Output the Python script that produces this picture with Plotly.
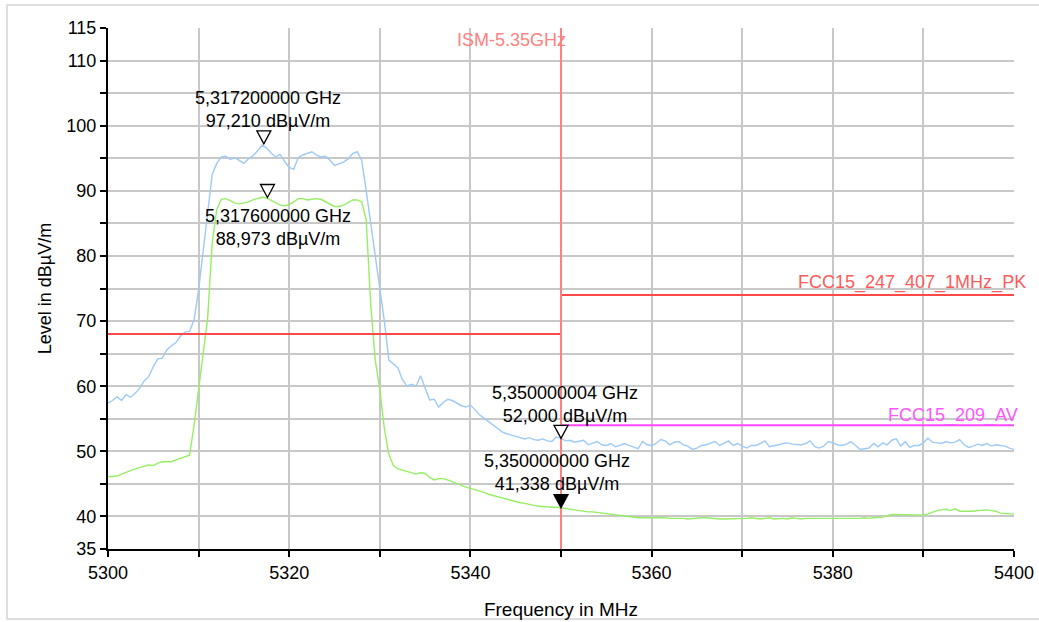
import plotly.graph_objects as go

# ---------------- data ----------------
freq_mhz = [5300 + 0.5 * i for i in range(201)]  # sweep grid, 0.5 MHz

peak_level = [
    57.4, 57.8, 58.4, 57.8, 58.7, 58.3, 58.9, 59.7, 60.8, 61.5,
    63.0, 64.2, 64.3, 65.6, 66.2, 66.7, 67.7, 68.3, 68.4, 70.2,
    74.8, 80.9, 87.0, 92.5, 94.2, 95.2, 95.3, 94.8, 95.1, 94.6,
    94.2, 94.9, 95.4, 96.1, 97.0, 96.6, 95.8, 95.2, 95.6, 94.5,
    93.6, 93.3, 95.1, 95.5, 95.8, 96.0, 95.5, 95.2, 95.3, 94.7,
    93.9, 94.1, 94.4, 94.9, 95.7, 96.0, 94.7, 90.0, 85.0, 80.0,
    74.8, 70.0, 64.0, 63.4, 62.8, 61.0, 60.0, 60.3, 60.0, 61.6,
    59.6, 57.9, 58.0, 56.8, 57.5, 58.0, 57.8, 57.4, 57.0, 56.8,
    57.1, 56.4, 55.6, 55.1, 54.6, 54.0, 53.5, 53.0, 52.7, 52.5,
    52.2, 52.0, 51.9, 52.1, 51.8, 51.7, 51.9, 51.6, 51.5, 52.2,
    52.0, 51.6, 51.7, 51.4, 51.6, 51.7, 51.0, 51.2, 51.5, 51.0,
    50.9, 51.2, 50.7, 50.9, 51.2, 50.9, 50.7, 50.4, 51.5, 51.0,
    50.9, 51.2, 51.8, 51.6, 51.0, 51.4, 51.5, 51.0, 50.8, 50.3,
    50.5, 50.9, 51.0, 51.3, 51.5, 50.9, 51.2, 51.6, 50.9, 51.2,
    50.8, 50.5, 50.9, 50.9, 51.2, 51.6, 50.7, 50.8, 51.0, 51.2,
    51.3, 51.1, 51.0, 51.0, 51.2, 51.6, 50.7, 50.5, 50.8, 51.5,
    51.3, 51.0, 50.9, 51.1, 51.5, 50.9, 50.3, 50.4, 50.5, 51.2,
    50.7, 51.3, 51.0, 51.7, 51.9, 50.8, 51.5, 50.6, 50.9, 50.9,
    51.3, 52.0, 51.4, 51.3, 51.2, 51.5, 51.3, 51.4, 51.8, 51.0,
    50.6, 50.8, 51.1, 50.9, 51.2, 50.8, 51.0, 50.9, 50.8, 50.5,
    50.3,
]

avg_level = [
    46.1, 46.2, 46.2, 46.5, 46.8, 47.0, 47.3, 47.5, 47.7, 47.9,
    47.8, 48.2, 48.4, 48.4, 48.4, 48.7, 48.9, 49.1, 49.4, 54.0,
    59.6, 65.5, 70.5, 82.0, 87.1, 88.7, 88.8, 88.5, 88.1, 88.0,
    88.1, 88.3, 88.6, 88.8, 89.0, 88.9, 88.5, 88.2, 87.8, 87.7,
    87.9, 88.3, 88.8, 88.8, 88.6, 88.7, 88.8, 88.7, 88.3, 87.9,
    87.6, 87.6, 87.8, 88.2, 88.6, 88.6, 88.3, 85.5, 72.5, 64.0,
    59.5, 53.5, 49.5, 47.8, 47.3, 47.1, 46.9, 46.7, 46.5, 46.7,
    46.6, 46.0, 45.6, 45.8, 45.8, 45.6, 45.3, 45.0, 44.7, 44.5,
    44.3, 44.1, 44.0, 43.7, 43.4, 43.2, 43.0, 42.8, 42.7, 42.5,
    42.3, 42.1, 42.0, 41.8, 41.7, 41.6, 41.5, 41.5, 41.4, 41.4,
    41.3, 41.2, 41.0, 41.0, 40.9, 40.8, 40.7, 40.7, 40.6, 40.6,
    40.5, 40.3, 40.2, 40.1, 40.0, 40.0, 39.9, 39.8, 39.8, 39.8,
    39.9, 39.9, 39.9, 39.8, 39.7, 39.7, 39.8, 39.7, 39.6, 39.7,
    39.7, 39.8, 39.8, 39.7, 39.7, 39.6, 39.6, 39.6, 39.7, 39.6,
    39.6, 39.7, 39.8, 39.7, 39.6, 39.7, 39.8, 39.6, 39.7, 39.7,
    39.6, 39.8, 39.7, 39.6, 39.7, 39.7, 39.6, 39.6, 39.7, 39.6,
    39.6, 39.7, 39.6, 39.7, 39.6, 39.6, 39.7, 39.8, 39.7, 39.8,
    39.8, 39.9, 40.1, 40.3, 40.3, 40.3, 40.3, 40.2, 40.2, 40.3,
    40.2, 40.4, 40.7, 40.9, 41.0, 41.1, 40.9, 41.2, 40.8, 40.8,
    40.7, 40.8, 40.9, 41.0, 41.0, 40.9, 40.8, 40.5, 40.4, 40.4,
    40.4,
]

assert len(peak_level) == len(freq_mhz) == len(avg_level)

pk_limit_freq = [5300, 5350, None, 5350, 5400]
pk_limit_level = [68, 68, None, 74, 74]
pk_limit_name = "FCC15_247_407_1MHz_PK"

av_limit_freq = [5350, 5400]
av_limit_level = [54, 54]
av_limit_name = "FCC15_209_AV"

ism_freq = 5350
ism_name = "ISM-5.35GHz"

# markers: frequency (MHz), level (dBuV/m), filled?, label above?
marker_freq = [5317.2, 5317.6, 5350.000004, 5350.0]
marker_level = [97.210, 88.973, 52.000, 41.338]
marker_filled = [False, False, False, True]
marker_label_above = [True, False, True, True]
marker_label_dx = [4, 11, 4, -4]
marker_label_dy = [11, -6, 10, 12]

x_tick_vals = list(range(5300, 5401, 10))
x_tick_text = ["5300", "", "5320", "", "5340", "", "5360", "", "5380", "", "5400"]
y_tick_vals = list(range(35, 116, 5))
y_tick_text = ["35", "40", "", "50", "", "60", "", "70", "", "80", "", "90",
               "", "100", "", "110", "115"]

y_range = [35, 115]
x_range = [5300, 5400]

# ---------------- figure ----------------
FONT = "Liberation Sans, Arial, sans-serif"
fig = go.Figure()

fig.add_trace(go.Scatter(x=freq_mhz, y=peak_level, mode="lines",
                         line=dict(color="#9dcaf7", width=1.4), hoverinfo="skip"))
fig.add_trace(go.Scatter(x=freq_mhz, y=avg_level, mode="lines",
                         line=dict(color="#96ee64", width=1.4), hoverinfo="skip"))
fig.add_trace(go.Scatter(x=pk_limit_freq, y=pk_limit_level, mode="lines",
                         line=dict(color="#ff4848", width=2), hoverinfo="skip"))
fig.add_trace(go.Scatter(x=av_limit_freq, y=av_limit_level, mode="lines",
                         line=dict(color="#ff48ff", width=2), hoverinfo="skip"))
fig.add_trace(go.Scatter(x=[ism_freq, ism_freq], y=y_range, mode="lines",
                         line=dict(color="#ff8080", width=2), hoverinfo="skip"))

# triangle markers (tip at the data point)
for f, v, filled in zip(marker_freq, marker_level, marker_filled):
    fig.add_shape(type="path", xref="x", yref="y",
                  xsizemode="pixel", ysizemode="pixel",
                  xanchor=f, yanchor=v,
                  path="M -7,13 L 7,13 L 0,0 Z",
                  line=dict(color="black", width=1.3),
                  fillcolor="black" if filled else "white",
                  layer="above")

# marker labels
for f, v, above, dx, dy in zip(marker_freq, marker_level, marker_label_above,
                               marker_label_dx, marker_label_dy):
    ftxt = f"{f / 1000:.9f}".replace(".", ",") + " GHz"
    vtxt = f"{v:.3f}".replace(".", ",") + " dBµV/m"
    fig.add_annotation(x=f, y=v, xref="x", yref="y",
                       text=ftxt + "<br>" + vtxt, showarrow=False,
                       xanchor="center",
                       yanchor="bottom" if above else "top",
                       xshift=dx, yshift=dy,
                       font=dict(family=FONT, size=18, color="black"))

# limit line labels
fig.add_annotation(x=x_range[1], y=pk_limit_level[-1], xref="x", yref="y",
                   text=pk_limit_name, showarrow=False, xanchor="right",
                   yanchor="bottom", xshift=14, yshift=0,
                   font=dict(family=FONT, size=18, color="#ff5a5a"))
fig.add_annotation(x=x_range[1], y=av_limit_level[-1], xref="x", yref="y",
                   text=av_limit_name, showarrow=False, xanchor="right",
                   yanchor="bottom", xshift=6, yshift=-3,
                   font=dict(family=FONT, size=18, color="#ff55ff"))
fig.add_annotation(x=ism_freq, y=y_range[1], xref="x", yref="y",
                   text=ism_name, showarrow=False, xanchor="right",
                   yanchor="top", xshift=7, yshift=0,
                   font=dict(family=FONT, size=18, color="#ff8080"))

# outer frame (its right edge lies outside the picture)
L, R, T, B = 108, 1014, 28, 549
pw, ph = R - L, B - T
fig.add_shape(type="rect", xref="paper", yref="paper",
              x0=(7 - L) / pw, x1=(1080 - L) / pw,
              y0=(B - 619) / ph, y1=(B - 5) / ph,
              line=dict(color="#d4d4d4", width=1.5), fillcolor="rgba(0,0,0,0)",
              layer="below")

axis_common = dict(showgrid=True, gridcolor="#c8c8c8", gridwidth=2,
                   zeroline=False, showline=True, linecolor="black", linewidth=2,
                   ticks="outside", ticklen=6, tickwidth=2, tickcolor="black",
                   tickfont=dict(family=FONT, size=18, color="black"))

fig.update_xaxes(range=x_range, tickmode="array", tickvals=x_tick_vals,
                 ticktext=x_tick_text, automargin=False,
                 title=dict(text="Frequency in MHz", standoff=21,
                            font=dict(family=FONT, size=19, color="black")),
                 **axis_common)
fig.update_yaxes(range=y_range, tickmode="array", tickvals=y_tick_vals,
                 ticktext=y_tick_text, automargin=False,
                 title=dict(text="Level in dBµV/m", standoff=10,
                            font=dict(family=FONT, size=18, color="black")),
                 **axis_common)

fig.update_layout(width=1039, height=622,
                  margin=dict(l=L, r=1039 - R, t=T, b=622 - B),
                  paper_bgcolor="white", plot_bgcolor="white",
                  showlegend=False, font=dict(family=FONT),
                  hovermode=False)

fig.write_html("out.html",
               config={"displayModeBar": False, "staticPlot": True},
               post_script="document.body.style.margin='0';"
                           "document.body.style.padding='0';"
                           "document.body.style.overflow='hidden';")
